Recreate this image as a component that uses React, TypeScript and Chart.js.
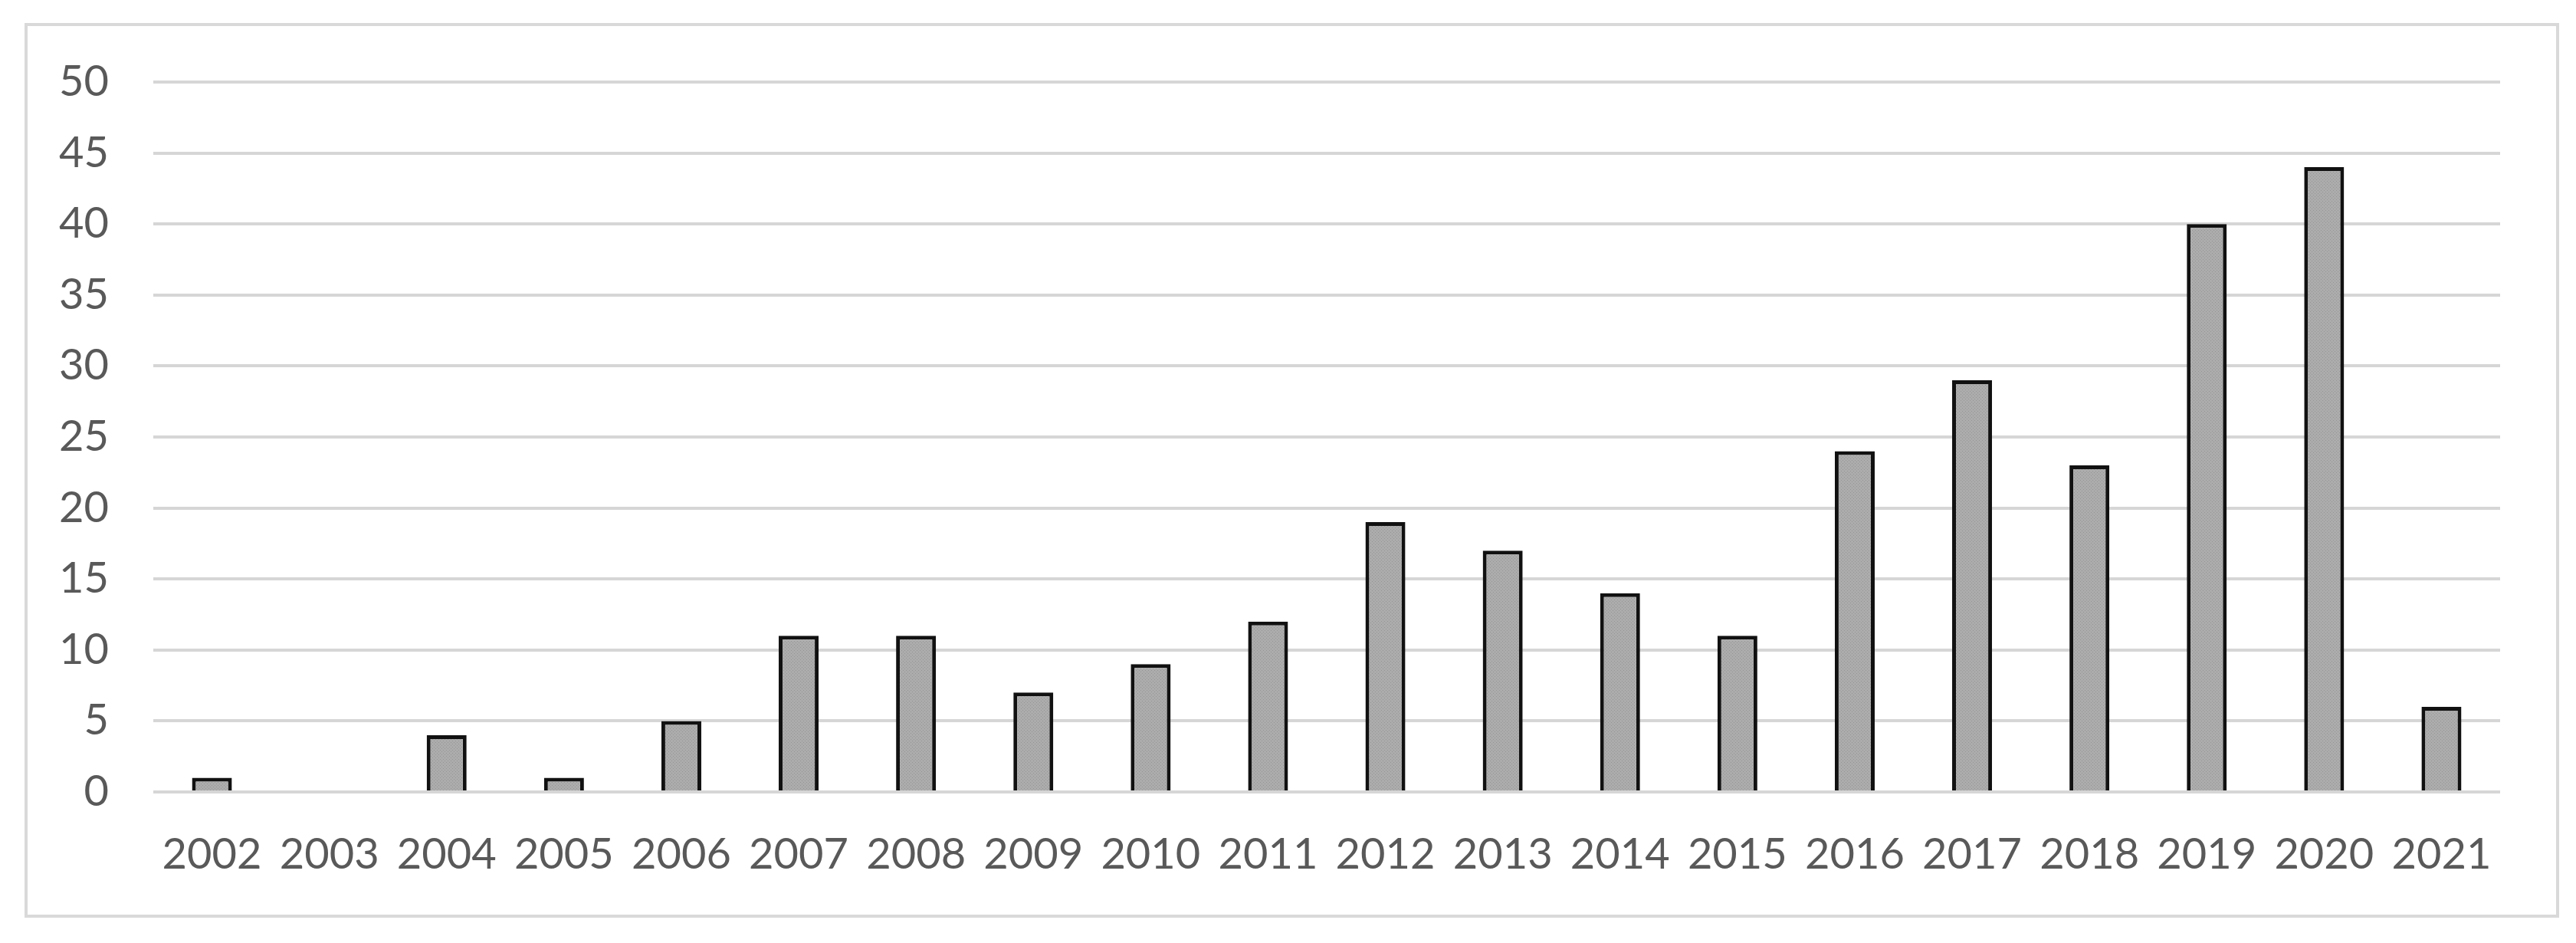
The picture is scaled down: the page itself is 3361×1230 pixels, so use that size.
import React, { useEffect, useRef } from "react";
import { Chart, registerables } from "chart.js";

Chart.register(...registerables);

const years: string[] = [
  "2002", "2003", "2004", "2005", "2006", "2007", "2008", "2009", "2010", "2011",
  "2012", "2013", "2014", "2015", "2016", "2017", "2018", "2019", "2020", "2021",
];
const counts: number[] = [1, 0, 4, 1, 5, 11, 11, 7, 9, 12, 19, 17, 14, 11, 24, 29, 23, 40, 44, 6];
const yMin = 0;
const yMax = 50;
const yStep = 5;

function makePattern(): CanvasPattern | string {
  const c = document.createElement("canvas");
  c.width = 4;
  c.height = 4;
  const g = c.getContext("2d");
  if (!g) return "#a6a6a6";
  g.fillStyle = "#acacac";
  g.fillRect(0, 0, 4, 4);
  g.fillStyle = "#959595";
  g.fillRect(0, 0, 1, 1);
  g.fillRect(2, 2, 1, 1);
  const p = g.createPattern(c, "repeat");
  return p || "#a6a6a6";
}

const framePlugin = {
  id: "outerFrame",
  beforeDraw(chart: any) {
    const ctx = chart.ctx;
    ctx.save();
    ctx.fillStyle = "#ffffff";
    ctx.fillRect(0, 0, chart.width, chart.height);
    ctx.strokeStyle = "#d9d9d9";
    ctx.lineWidth = 4;
    ctx.strokeRect(34, 32, 3303, 1163);
    ctx.restore();
  },
};

export default function App() {
  const ref = useRef<HTMLCanvasElement | null>(null);
  useEffect(() => {
    if (!ref.current) return;
    const chart = new Chart(ref.current, {
      type: "bar",
      data: {
        labels: years,
        datasets: [
          {
            data: counts,
            backgroundColor: makePattern() as any,
            borderColor: "#111111",
            borderWidth: 5,
            barPercentage: 0.34,
            categoryPercentage: 1,
          },
        ],
      },
      options: {
        animation: false,
        responsive: false,
        maintainAspectRatio: false,
        devicePixelRatio: 1,
        layout: { padding: { left: 0, right: 99, top: 107, bottom: 0 } },
        plugins: {
          legend: { display: false },
          tooltip: { enabled: false },
          title: { display: false },
        },
        scales: {
          x: {
            grid: { display: false, drawTicks: false },
            border: { display: false },
            ticks: {
              color: "#595959",
              font: { family: "Lato", size: 56 },
              padding: 48,
              maxRotation: 0,
              autoSkip: false,
            },
            afterFit: (s: any) => {
              s.height = 197;
            },
          },
          y: {
            min: yMin,
            max: yMax,
            grid: { color: "#d6d6d6", lineWidth: 4, drawTicks: false },
            border: { display: false },
            ticks: {
              stepSize: yStep,
              color: "#595959",
              font: { family: "Lato", size: 56 },
              padding: 58,
            },
            afterFit: (s: any) => {
              s.width = 200;
            },
          },
        },
      },
      plugins: [framePlugin],
    });
    return () => chart.destroy();
  }, []);
  return (
    <div style={{ position: "fixed", left: 0, top: 0, width: 3361, height: 1230, background: "#fff" }}>
      <canvas ref={ref} width={3361} height={1230} style={{ width: 3361, height: 1230, display: "block" }} />
    </div>
  );
}
